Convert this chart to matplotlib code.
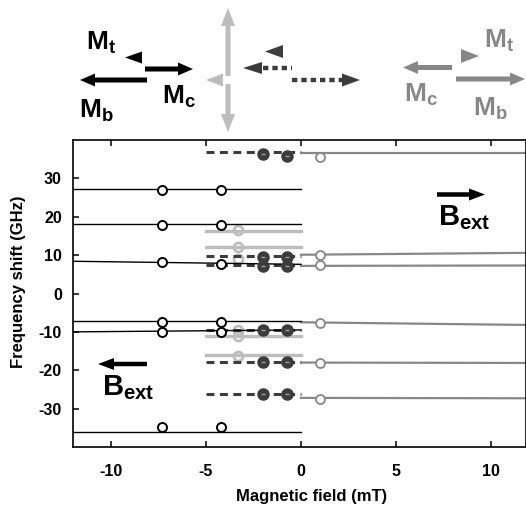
import matplotlib
matplotlib.use("Agg")
import matplotlib.pyplot as plt
from matplotlib.patches import FancyArrow, Polygon

plt.rcParams['font.family'] = ['Liberation Sans', 'DejaVu Sans']
plt.rcParams['font.weight'] = 'bold'
plt.rcParams['axes.unicode_minus'] = False
plt.rcParams['mathtext.fontset'] = 'custom'
plt.rcParams['mathtext.bf'] = 'Liberation Sans:bold'
plt.rcParams['mathtext.rm'] = 'Liberation Sans:bold'

# black branch (negative field, solid lines from -12 to 0)
black_start = [27.2, 18.2, 8.4, -7.1, -10.0, -36.1]
black_end = [27.2, 18.2, 7.6, -7.1, -9.5, -36.1]
black_cx = [-7.3, -4.2]
black_cy = [[27.0, 27.0], [17.9, 17.8], [8.1, 7.8], [-7.4, -7.4], [-10.1, -10.0], [-34.8, -34.8]]

# dark grey dashed branch (-5 to 0)
dark_levels = [37.0, 9.9, 7.4, -9.6, -17.8, -26.1]
dark_cx = [-2.0, -0.75]
dark_cy = [[36.3, 35.8], [9.6, 9.6], [7.2, 7.2], [-9.5, -9.5], [-17.8, -17.8], [-26.1, -26.1]]

# light grey branch (-5 to 0)
light_levels = [16.3, 12.1, -11.1, -15.9]
light_cx = -3.3
light_cy = [16.6, 12.2, 8.9, -9.6, -11.0, -16.3]

# grey branch (positive field, 0 to 12)
grey_start = [36.7, 10.1, 7.2, -7.5, -18.0, -27.2]
grey_end = [36.7, 10.6, 7.3, -8.2, -18.1, -27.3]
grey_cx = 1.0
grey_cy = [35.5, 10.0, 7.4, -7.6, -18.2, -27.4]

xticks = [-10, -5, 0, 5, 10]
yticks = [-30, -20, -10, 0, 10, 20, 30]

BLACK = '#000000'
DARK = '#3c3c3c'
LIGHT = '#bdbdbd'
GREY = '#878787'

fig = plt.figure(figsize=(5.26, 5.08), dpi=100)
ax = fig.add_axes([73/526, 1 - 447/508, 453/526, 307/508])

for y0, y1 in zip(black_start, black_end):
    ax.plot([-12, 0], [y0, y1], color=BLACK, lw=1.0, zorder=3)
for lv in dark_levels:
    ax.plot([-5, 0], [lv, lv], color=DARK, lw=2.2, dashes=(2.6, 1.8), zorder=2)
for lv in light_levels:
    ax.plot([-5, 0], [lv, lv], color=LIGHT, lw=2.4, zorder=1)
for y0, y1 in zip(grey_start, grey_end):
    ax.plot([0, 12], [y0, y1], color=GREY, lw=1.6, zorder=2)

ax.plot([light_cx] * len(light_cy), light_cy, 'o', ms=6.5, mfc='none', mec=LIGHT, mew=2.0, zorder=1.5)
for ys in black_cy:
    ax.plot(black_cx, ys, 'o', ms=6.5, mfc='white', mec=BLACK, mew=1.4, zorder=4)
for ys in dark_cy:
    ax.plot(dark_cx, ys, 'o', ms=7.5, mfc=DARK, mec=DARK, mew=1.5, zorder=4)
    ax.plot(dark_cx, ys, '_', ms=3.5, mec='#a0a0a0', mew=1.0, zorder=5)
ax.plot([grey_cx] * len(grey_cy), grey_cy, 'o', ms=6.5, mfc='white', mec=GREY, mew=1.3, zorder=4)

ax.set_xlim(-12, 11.85)
ax.set_ylim(-40, 40)
ax.set_xticks(xticks)
ax.set_yticks(yticks)
ax.tick_params(direction='in', length=4, width=1.1, top=True, labelsize=11.5)
ax.tick_params(axis='x', pad=12)
ax.tick_params(axis='y', pad=8)
for s in ax.spines.values():
    s.set_linewidth(1.2)
ax.set_xlabel('Magnetic field (mT)', fontsize=12, fontweight='bold')
ax.set_ylabel('Frequency shift (GHz)', fontsize=12, fontweight='bold')
ax.xaxis.set_label_coords((312 - 73) / 453, -42 / 307)
ax.yaxis.set_label_coords(-47 / 453, (447 - 282) / 307)

# overlay in pixel coordinates for the schematic
ov = fig.add_axes([0, 0, 1, 1], zorder=10)
ov.set_xlim(0, 526)
ov.set_ylim(508, 0)
ov.axis('off')


def arrow(x0, y, x1, color, w=5, hw=13, hl=15):
    ov.add_patch(FancyArrow(x0, y, x1 - x0, 0, width=w, head_width=hw, head_length=hl,
                            length_includes_head=True, color=color, lw=0))


def tri(xb, xt, y, h, color):
    ov.add_patch(Polygon([(xb, y - h / 2), (xb, y + h / 2), (xt, y)], closed=True, color=color, lw=0))


def label(x, y, sub, color, size=19):
    ov.text(x, y, r'$\mathbf{M}_\mathbf{%s}$' % sub, color=color, fontsize=size,
            ha='left', va='baseline')


# black state
arrow(145, 69, 193, BLACK)
arrow(147, 80, 80, BLACK)
tri(142, 125, 57.5, 12, BLACK)
label(86, 50, 't', BLACK)
label(162, 103, 'c', BLACK)
label(79, 117, 'b', BLACK)

# light grey (vertical)
ov.add_patch(FancyArrow(228, 76, 0, -68, width=5, head_width=14, head_length=18,
                        length_includes_head=True, color=LIGHT, lw=0))
ov.add_patch(FancyArrow(228, 84, 0, 48, width=5, head_width=14, head_length=18,
                        length_includes_head=True, color=LIGHT, lw=0))
tri(223, 206, 80, 13, LIGHT)

# dark grey dashed
tri(262, 243, 68, 12, DARK)
ov.plot([263, 292], [68, 68], color=DARK, lw=3.2, dashes=(1.2, 0.9), solid_capstyle='butt')
tri(283, 265, 51.5, 13, DARK)
ov.plot([292, 343], [80, 80], color=DARK, lw=3.2, dashes=(1.2, 0.9))
tri(342, 360, 80, 13, DARK)

# grey state
arrow(452, 67.5, 403, GREY)
tri(461, 479, 56, 14, GREY)
arrow(456, 79, 525, GREY)
label(484, 48, 't', GREY)
label(404, 101, 'c', GREY)
label(473, 115, 'b', GREY)

# external field arrows
arrow(147, 364, 98, BLACK, w=4.5, hw=12, hl=16)
ov.text(102, 395, r'$\mathbf{B}_\mathbf{ext}$', fontsize=21, color=BLACK, ha='left', va='baseline')
arrow(437, 194.5, 485, BLACK, w=4.5, hw=12, hl=16)
ov.text(438, 225, r'$\mathbf{B}_\mathbf{ext}$', fontsize=21, color=BLACK, ha='left', va='baseline')

fig.savefig('out.png', dpi=100)
